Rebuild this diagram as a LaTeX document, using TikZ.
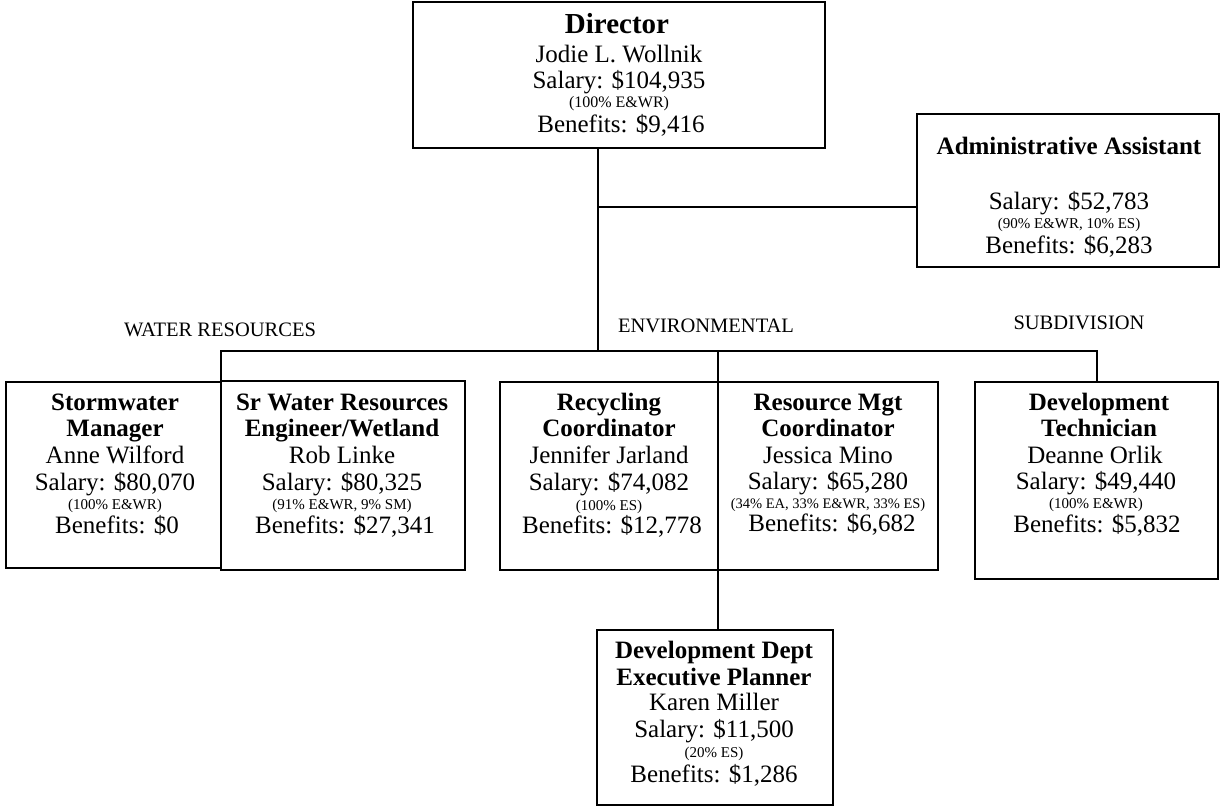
\documentclass[tikz,border=0pt]{standalone}
\usepackage{fontspec}
\setmainfont{Liberation Serif}
\newcommand\orgbox[5]{\node[box, minimum width={(#4-#2)*1pt}, minimum height={(#5-#3)*1pt}] (#1) at ({(#2+#4)/2},{(#3+#5)/2}) {};}
\begin{document}
\begin{tikzpicture}[x=1pt,y=-1pt,
  box/.style={draw, line width=2.6pt, inner sep=0pt, outer sep=0pt},
  conn/.style={line width=2pt},
  tn/.style={anchor=base, inner sep=0pt, font=\fontsize{25}{27}\selectfont},
  tb/.style={anchor=base, inner sep=0pt, font=\fontsize{25}{27}\selectfont\bfseries},
  ts/.style={anchor=base, inner sep=0pt, font=\fontsize{15}{17}\selectfont},
  lbl/.style={anchor=base, inner sep=0pt, font=\fontsize{20.5}{23}\selectfont}]
\fill[white] (0,0) rectangle (1222,807);
\useasboundingbox (0,0) rectangle (1222,807);

% boxes
\orgbox{dir}{413}{2}{825}{148}
\orgbox{adm}{917}{114}{1219}{267}
\orgbox{sw}{6}{382}{221}{568}
\orgbox{sr}{221}{381}{465}{570}
\orgbox{rc}{500}{382}{718}{570}
\orgbox{rm}{718}{382}{938}{570}
\orgbox{dt}{975}{382}{1218}{579}
\orgbox{dd}{597}{630}{833}{805}

% connectors
\coordinate (jd) at (598,207);
\coordinate (busD) at (598,351);
\coordinate (busW) at (221,351);
\coordinate (busE) at (1097,351);
\coordinate (busM) at (718,351);
\draw[conn] (dir.south -| busD) -- (busD);
\draw[conn] (jd) -- (jd -| adm.west);
\draw[conn] (sr.north -| busW) -- (busW) -- (busE) -- (dt.north -| busE);
\draw[conn] (busM) -- (dd.north -| busM);

% group labels
\node[lbl] (lw) at (220,336) {WATER RESOURCES};
\node[lbl] (le) at (706,332) {ENVIRONMENTAL};
\node[lbl] (ls) at (1079,329) {SUBDIVISION};

% Director
\node[tb, font=\fontsize{29}{31}\selectfont\bfseries] (d1) at (617,33) {Director};
\node[tn] (d2) at (619,62) {Jodie L. Wollnik};
\node[tn] (d3) at (619,88) {Salary: \$104,935};
\node[ts, font=\fontsize{16}{18}\selectfont] (d4) at (619,107) {(100\% E\&WR)};
\node[tn] (d5) at (621,132) {Benefits: \$9,416};

% Administrative Assistant
\node[tb] (a1) at (1069,154) {Administrative Assistant};
\node[tn] (a2) at (1069,209) {Salary: \$52,783};
\node[ts] (a3) at (1069,228) {(90\% E\&WR, 10\% ES)};
\node[tn] (a4) at (1069,253) {Benefits: \$6,283};

% Stormwater Manager
\node[tb] (s1) at (115,410) {Stormwater};
\node[tb] (s2) at (115,436) {Manager};
\node[tn] (s3) at (115,463) {Anne Wilford};
\node[tn] (s4) at (115,490) {Salary: \$80,070};
\node[ts] (s5) at (115,509) {(100\% E\&WR)};
\node[tn] (s6) at (117,533) {Benefits: \$0};

% Sr Water Resources
\node[tb] (w1) at (342,410) {Sr Water Resources};
\node[tb] (w2) at (342,436) {Engineer/Wetland};
\node[tn] (w3) at (342,463) {Rob Linke};
\node[tn] (w4) at (342,490) {Salary: \$80,325};
\node[ts] (w5) at (342,509) {(91\% E\&WR, 9\% SM)};
\node[tn] (w6) at (345,533) {Benefits: \$27,341};

% Recycling Coordinator
\node[tb] (r1) at (609,410) {Recycling};
\node[tb] (r2) at (609,436) {Coordinator};
\node[tn] (r3) at (609,463) {Jennifer Jarland};
\node[tn] (r4) at (609,490) {Salary: \$74,082};
\node[ts] (r5) at (609,510) {(100\% ES)};
\node[tn] (r6) at (612,533) {Benefits: \$12,778};

% Resource Mgt Coordinator
\node[tb] (m1) at (828,410) {Resource Mgt};
\node[tb] (m2) at (828,436) {Coordinator};
\node[tn] (m3) at (828,463) {Jessica Mino};
\node[tn] (m4) at (828,489) {Salary: \$65,280};
\node[ts, font=\fontsize{14.5}{17}\selectfont] (m5) at (828,508) {(34\% EA, 33\% E\&WR, 33\% ES)};
\node[tn] (m6) at (832,531) {Benefits: \$6,682};

% Development Technician
\node[tb] (t1) at (1099,410) {Development};
\node[tb] (t2) at (1099,436) {Technician};
\node[tn] (t3) at (1095,463) {Deanne Orlik};
\node[tn] (t4) at (1096,489) {Salary: \$49,440};
\node[ts] (t5) at (1096,508) {(100\% E\&WR)};
\node[tn] (t6) at (1097,532) {Benefits: \$5,832};

% Development Dept Executive Planner
\node[tb] (p1) at (714,658) {Development Dept};
\node[tb] (p2) at (714,685) {Executive Planner};
\node[tn] (p3) at (714,710) {Karen Miller};
\node[tn] (p4) at (714,737) {Salary: \$11,500};
\node[ts] (p5) at (714,757) {(20\% ES)};
\node[tn] (p6) at (714,782) {Benefits: \$1,286};
\end{tikzpicture}
\end{document}
